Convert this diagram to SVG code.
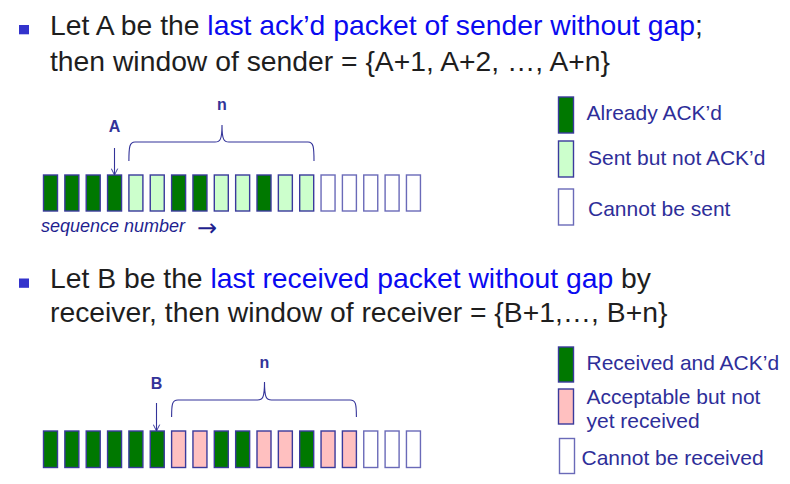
<svg xmlns="http://www.w3.org/2000/svg" width="790" height="484" viewBox="0 0 790 484">
<style>
.body{font-family:"Liberation Sans",Arial,sans-serif;font-size:28.3px;fill:#1e1e1e}
.hl{fill:#0a0af0}
.bul{fill:#3333cc}
.lab{font-family:"Liberation Sans",Arial,sans-serif;font-size:16px;font-weight:bold;fill:#333399;text-anchor:middle}
.leg{font-family:"Liberation Sans",Arial,sans-serif;font-size:21px;fill:#2e2e99}
.seq{font-family:"Liberation Sans",Arial,sans-serif;font-size:18px;font-style:italic;fill:#1f1f8f}
.arr{font-family:"DejaVu Sans",sans-serif;font-size:24px;font-style:normal}
.b{stroke:#3a3a9c;stroke-width:1.4}
.d{fill:#007800}
.l{fill:#ccffcc}
.p{fill:#ffc0c0}
.w{fill:#ffffff;stroke:#6a6ab8}
.con{fill:none;stroke:#333399;stroke-width:1.1}
</style>
<defs>
<marker id="ah" viewBox="0 0 10 10" refX="9" refY="5" markerWidth="8" markerHeight="8" orient="auto" markerUnits="userSpaceOnUse">
<path d="M1,1 L9,5 L1,9" fill="none" stroke="#333399" stroke-width="1.2"/>
</marker>
</defs>
<rect width="790" height="484" fill="#ffffff"/>

<g id="title1">
<rect class="bul" x="19" y="25" width="10" height="9.3"/>
<text class="body" x="50" y="35">Let A be the <tspan class="hl">last ack’d packet of sender without gap</tspan>;</text>
<text class="body" x="50" y="71">then window of sender = {A+1, A+2, …, A+n}</text>
</g>

<g id="sender-window">
<rect class="b d" x="43.5" y="175" width="14" height="36"/>
<rect class="b d" x="64.85" y="175" width="14" height="36"/>
<rect class="b d" x="86.2" y="175" width="14" height="36"/>
<rect class="b d" x="107.55" y="175" width="14" height="36"/>
<rect class="b l" x="128.9" y="175" width="14" height="36"/>
<rect class="b l" x="150.25" y="175" width="14" height="36"/>
<rect class="b d" x="171.6" y="175" width="14" height="36"/>
<rect class="b d" x="192.95" y="175" width="14" height="36"/>
<rect class="b l" x="214.3" y="175" width="14" height="36"/>
<rect class="b l" x="235.65" y="175" width="14" height="36"/>
<rect class="b d" x="257" y="175" width="14" height="36"/>
<rect class="b l" x="278.35" y="175" width="14" height="36"/>
<rect class="b l" x="299.7" y="175" width="14" height="36"/>
<rect class="b w" x="321.05" y="175" width="14" height="36"/>
<rect class="b w" x="342.4" y="175" width="14" height="36"/>
<rect class="b w" x="363.75" y="175" width="14" height="36"/>
<rect class="b w" x="385.1" y="175" width="14" height="36"/>
<rect class="b w" x="406.45" y="175" width="14" height="36"/>
</g>
<g id="label-A"><text class="lab" x="114.5" y="131.5">A</text></g>
<g id="label-n1"><text class="lab" x="222" y="110">n</text></g>
<g id="seq-label"><text class="seq" x="41" y="232">sequence number <tspan class="arr" x="197" y="236">→</tspan></text></g>

<g id="legend-sender">
<rect class="b d" x="558.5" y="97" width="15" height="36"/>
<text class="leg" x="586.5" y="119.5">Already ACK’d</text>
<rect class="b l" x="558.5" y="141" width="15" height="36"/>
<text class="leg" x="588" y="164.5">Sent but not ACK’d</text>
<rect class="b w" x="558.5" y="189" width="15" height="36"/>
<text class="leg" x="588" y="215.5">Cannot be sent</text>
</g>

<g id="title2">
<rect class="bul" x="19" y="278.5" width="10" height="9.3"/>
<text class="body" x="50" y="288.3">Let B be the <tspan class="hl">last received packet without gap</tspan> by</text>
<text class="body" x="50" y="321.7">receiver, then window of receiver = {B+1,…, B+n}</text>
</g>

<g id="receiver-window">
<rect class="b d" x="43.5" y="431" width="14" height="36.5"/>
<rect class="b d" x="64.85" y="431" width="14" height="36.5"/>
<rect class="b d" x="86.2" y="431" width="14" height="36.5"/>
<rect class="b d" x="107.55" y="431" width="14" height="36.5"/>
<rect class="b d" x="128.9" y="431" width="14" height="36.5"/>
<rect class="b d" x="150.25" y="431" width="14" height="36.5"/>
<rect class="b p" x="171.6" y="431" width="14" height="36.5"/>
<rect class="b p" x="192.95" y="431" width="14" height="36.5"/>
<rect class="b d" x="214.3" y="431" width="14" height="36.5"/>
<rect class="b d" x="235.65" y="431" width="14" height="36.5"/>
<rect class="b p" x="257" y="431" width="14" height="36.5"/>
<rect class="b p" x="278.35" y="431" width="14" height="36.5"/>
<rect class="b d" x="299.7" y="431" width="14" height="36.5"/>
<rect class="b p" x="321.05" y="431" width="14" height="36.5"/>
<rect class="b p" x="342.4" y="431" width="14" height="36.5"/>
<rect class="b w" x="363.75" y="431" width="14" height="36.5"/>
<rect class="b w" x="385.1" y="431" width="14" height="36.5"/>
<rect class="b w" x="406.45" y="431" width="14" height="36.5"/>
</g>
<g id="label-B"><text class="lab" x="156.5" y="389">B</text></g>
<g id="label-n2"><text class="lab" x="264.5" y="368">n</text></g>

<g id="legend-receiver">
<rect class="b d" x="558.5" y="347" width="15" height="35"/>
<text class="leg" x="586.5" y="369.5">Received and ACK’d</text>
<rect class="b p" x="558.5" y="389" width="15" height="35"/>
<text class="leg" x="586.5" y="403.5">Acceptable but not</text>
<text class="leg" x="586.5" y="428">yet received</text>
<rect class="b w" x="559.5" y="438.5" width="15" height="35"/>
<text class="leg" x="581.5" y="464.5">Cannot be received</text>
</g>

<g id="connectors">
<line class="con" x1="114.5" y1="148" x2="114.5" y2="175" marker-end="url(#ah)"/>
<path class="con" d="M128.9,161 C128.9,147 129.5,142 135,142 L215,142 C220,142 222,140 222,125 C222,140 224,142 229,142 L308,142 C313.5,142 314,147 314,161"/>
<line class="con" x1="156.5" y1="403" x2="156.5" y2="431" marker-end="url(#ah)"/>
<path class="con" d="M171.6,417 C171.6,404 172.2,400 178,400 L257.5,400 C262.5,400 264.5,398 264.5,382 C264.5,398 266.5,400 271.5,400 L350,400 C355.8,400 356.4,404 356.4,417"/>
</g>
</svg>
